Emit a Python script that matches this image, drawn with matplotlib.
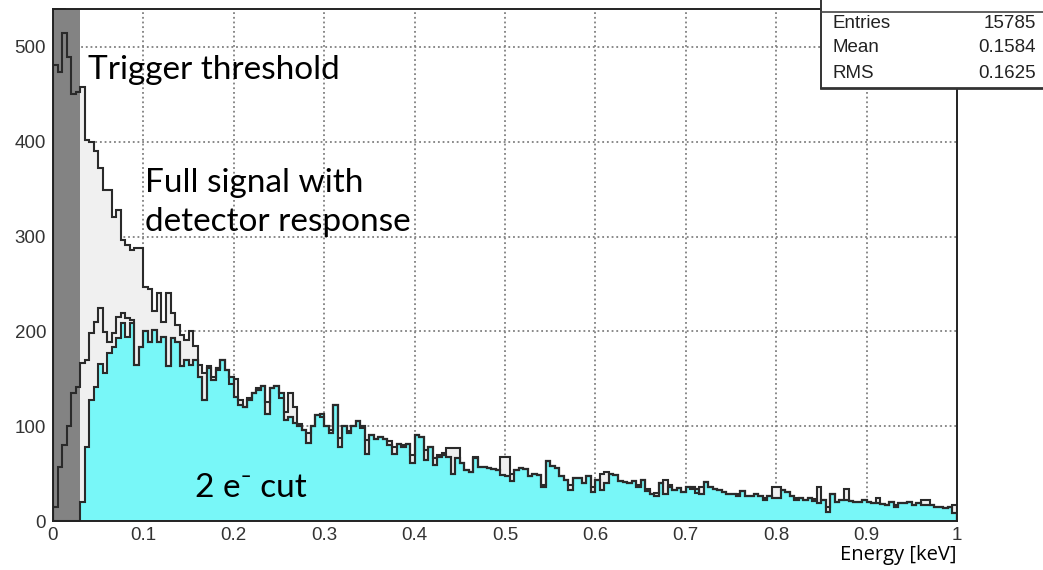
import matplotlib
matplotlib.use("Agg")
import matplotlib.pyplot as plt
import numpy as np
from matplotlib.lines import Line2D
from matplotlib.patches import Rectangle

# ---------------- data ----------------
bin_edges_lo = 0.0
bin_edges_hi = 1.0
n_bins = 200
threshold = 0.03

full_signal = [
    481, 474, 515, 489, 450, 452, 458, 402, 400, 390,
    372, 349, 349, 321, 328, 296, 291, 286, 288, 288,
    247, 245, 221, 240, 210, 240, 219, 207, 196, 191,
    200, 185, 165, 156, 163, 152, 159, 170, 159, 145,
    150, 128, 120, 130, 135, 140, 142, 126, 140, 142,
    130, 115, 135, 120, 102, 96, 93, 100, 112, 110,
    100, 96, 122, 88, 100, 95, 100, 105, 98, 85,
    91, 86, 89, 87, 84, 78, 81, 80, 81, 70,
    91, 89, 75, 78, 66, 70, 72, 77, 77, 77,
    61, 54, 52, 68, 57, 57, 56, 55, 54, 68,
    68, 50, 54, 56, 55, 47, 50, 49, 38, 63,
    58, 56, 47, 43, 38, 45, 45, 40, 47, 36,
    43, 50, 52, 50, 49, 42, 41, 40, 42, 38,
    43, 34, 29, 30, 40, 43, 38, 33, 35, 31,
    36, 34, 30, 36, 41, 36, 34, 33, 31, 29,
    28, 28, 32, 26, 26, 28, 26, 24, 26, 36,
    36, 33, 31, 26, 24, 24, 22, 24, 23, 36,
    22, 15, 29, 20, 22, 34, 21, 20, 20, 22,
    20, 19, 24, 18, 17, 20, 17, 19, 19, 20,
    17, 19, 22, 22, 17, 15, 15, 14, 15, 17,
]

two_e_cut = [
    0, 0, 0, 0, 0, 0, 20, 78, 128, 141,
    166, 156, 177, 184, 193, 209, 194, 209, 165, 184,
    200, 189, 201, 189, 194, 164, 193, 189, 163, 170,
    165, 170, 152, 128, 161, 149, 161, 170, 159, 152,
    131, 122, 120, 128, 135, 138, 142, 113, 140, 142,
    135, 107, 110, 103, 100, 96, 82, 100, 112, 113,
    100, 93, 122, 78, 100, 93, 100, 105, 100, 71,
    91, 86, 89, 87, 80, 71, 81, 78, 81, 61,
    91, 89, 64, 78, 59, 68, 70, 68, 50, 66,
    61, 54, 52, 66, 57, 57, 56, 55, 54, 48,
    47, 42, 54, 56, 55, 47, 50, 49, 36, 63,
    58, 56, 47, 43, 33, 45, 45, 40, 47, 31,
    43, 33, 40, 50, 49, 42, 41, 40, 42, 36,
    43, 32, 29, 26, 40, 29, 36, 33, 35, 31,
    36, 36, 34, 28, 41, 36, 34, 33, 31, 29,
    28, 26, 32, 26, 26, 28, 26, 22, 26, 24,
    24, 33, 31, 26, 22, 24, 22, 24, 21, 19,
    22, 10, 29, 20, 22, 22, 21, 20, 20, 22,
    20, 19, 19, 18, 17, 20, 15, 19, 19, 20,
    17, 19, 17, 17, 17, 15, 15, 14, 15, 8,
]

# 2e- cut before the trigger efficiency (only differs below ~0.09 keV)
two_e_no_trigger_low = [15, 57, 80, 100, 135, 141, 167, 170, 198, 210,
                        225, 199, 189, 198, 215, 219, 214, 212]

x_ticks = [0, 0.1, 0.2, 0.3, 0.4, 0.5, 0.6, 0.7, 0.8, 0.9, 1]
x_tick_labels = ["0", "0.1", "0.2", "0.3", "0.4", "0.5", "0.6", "0.7", "0.8", "0.9", "1"]
y_ticks = [0, 100, 200, 300, 400, 500]

stats_labels = ["Entries", "Mean", "RMS"]
stats_values = ["15785", "0.1584", "0.1625"]

# ---------------- figure ----------------
W, H = 1043, 570
fig = plt.figure(figsize=(W / 100, H / 100), dpi=100)
fig.patch.set_facecolor("white")


def fx(px):
    return px / W


def fy(py):
    return (H - py) / H


ax = fig.add_axes([fx(53), fy(521), fx(957) - fx(53), fy(9) - fy(521)])
ax.set_xlim(0, 1)
ax.set_ylim(0, 540)

edges = np.linspace(bin_edges_lo, bin_edges_hi, n_bins + 1)
full = np.array(full_signal, dtype=float)
cut = np.array(two_e_cut, dtype=float)
mid = np.array(two_e_no_trigger_low + two_e_cut[len(two_e_no_trigger_low):], dtype=float)

line_col = "#2a2a2a"
lw = 1.5

# grid (dotted, beneath everything)
grid_col = "#808080"
for xv in x_ticks[1:-1]:
    ax.axvline(xv, color=grid_col, lw=1.3, ls=(0, (1, 1.6)), zorder=0.5)
for yv in y_ticks[1:]:
    ax.axhline(yv, color=grid_col, lw=1.3, ls=(0, (1, 1.6)), zorder=0.5)

# fills
ax.stairs(full, edges, fill=True, color="#f0f0f0", zorder=1.0)
ax.stairs(cut, edges, fill=True, color="#78f7f8", zorder=1.2)

# trigger threshold band
ax.axvspan(0, threshold, color="#838383", zorder=1.6, lw=0)

# outlines
ax.stairs(full, edges, color=line_col, lw=lw, zorder=2.0)
ax.stairs(mid, edges, color=line_col, lw=lw, zorder=2.0)
ax.stairs(cut, edges, color=line_col, lw=lw, zorder=2.1)

# axes styling (ROOT-like)
for sp in ax.spines.values():
    sp.set_color("#222222")
    sp.set_linewidth(1.4)
    sp.set_zorder(3)

ax.set_xticks(x_ticks)
ax.set_xticklabels(x_tick_labels)
ax.set_yticks(y_ticks)
ax.set_yticks(np.arange(0, 541, 20), minor=True)
ax.tick_params(axis="x", which="both", length=0, pad=4, labelsize=13.5,
               labelcolor="#333333")
ax.tick_params(axis="y", which="major", direction="in", length=19.5, width=1.4,
               color="#333333", labelsize=13.5, labelcolor="#333333", pad=5)
ax.tick_params(axis="y", which="minor", direction="in", length=9.7, width=1.4,
               color="#333333")
for lab in ax.get_xticklabels() + ax.get_yticklabels():
    lab.set_family("Liberation Sans")

# annotations
afont = ["Lato", "DejaVu Sans"]
akw = dict(family=afont, fontsize=24, fontweight="normal", va="center",
           ha="left", color="#000000")
fig.text(fx(88), fy(70), "Trigger threshold", **akw)
fig.text(fx(145), fy(183), "Full signal with", **akw)
fig.text(fx(145), fy(222), "detector response", **akw)
fig.text(fx(195), fy(488), "2 e\u207b cut", **akw)
fig.text(fx(957), fy(555), "Energy [keV]", family=["Open Sans", "DejaVu Sans"],
         fontsize=14.5, va="center", ha="right", color="#000000")

# stats box
box = Rectangle((fx(821), fy(88)), 1.0, 1.0, transform=fig.transFigure,
                facecolor="white", edgecolor="none", zorder=10)
fig.add_artist(box)
fig.add_artist(Line2D([fx(821), fx(821)], [fy(88), 1.01], transform=fig.transFigure,
                      color="#333333", lw=1.4, zorder=11))
fig.add_artist(Line2D([fx(821), 1.01], [fy(88), fy(88)], transform=fig.transFigure,
                      color="#333333", lw=2.0, zorder=11))
fig.add_artist(Line2D([fx(821), 1.01], [fy(12), fy(12)], transform=fig.transFigure,
                      color="#444444", lw=1.2, zorder=11))
stat_y = [24, 48, 74]
for lab, val, yy in zip(stats_labels, stats_values, stat_y):
    fig.text(fx(833), fy(yy), lab, family="Liberation Sans", fontsize=13.5,
             va="center", ha="left", color="#222222", zorder=12)
    fig.text(fx(1036), fy(yy), val, family="Liberation Sans", fontsize=13.5,
             va="center", ha="right", color="#222222", zorder=12)

fig.savefig("out.png", dpi=100, facecolor="white")
